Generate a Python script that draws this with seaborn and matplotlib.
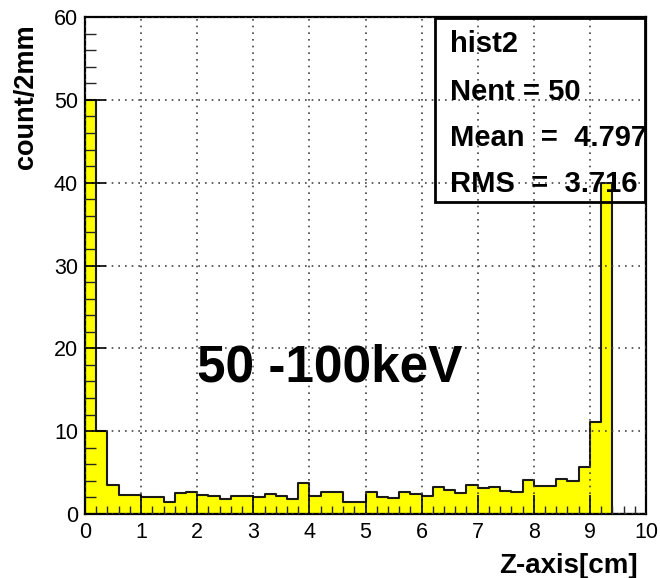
import numpy as np
import pandas as pd
import matplotlib
matplotlib.use("Agg")
import matplotlib.pyplot as plt
from matplotlib.patches import Rectangle
from matplotlib.ticker import MultipleLocator
import seaborn as sns

# Z position histogram, 2 mm bins from 0 to 10 cm
bin_width = 0.2
z_range = (0.0, 10.0)
counts = [
    50.0, 10.0, 3.5, 2.3, 2.3, 2.0, 2.0, 1.5, 2.5, 2.7,
    2.3, 2.2, 1.8, 2.2, 2.2, 2.1, 2.4, 2.2, 1.8, 3.8,
    2.2, 2.7, 2.7, 1.5, 1.4, 2.6, 2.1, 1.9, 2.6, 2.4,
    2.2, 3.2, 2.9, 2.5, 3.5, 3.1, 3.3, 2.8, 2.6, 4.1,
    3.4, 3.4, 4.2, 4.0, 5.7, 11.1, 40.0, 0.0, 0.0, 0.0,
]
bin_centers = [round(z_range[0] + bin_width * (i + 0.5), 2)
               for i in range(len(counts))]

x_ticks = list(range(0, 11))
y_ticks = list(range(0, 61, 10))

stats_lines = ["hist2", "Nent = 50", "Mean  =  4.797", "RMS  =  3.716"]
energy_label = "50 -100keV"
x_title = "Z-axis[cm]"
y_title = "count/2mm"

hist_df = pd.DataFrame({"z": bin_centers, "count": counts})

sns.set_style("ticks")
plt.rcParams["font.family"] = ["Liberation Sans", "DejaVu Sans"]

W, H = 660, 578
fig = plt.figure(figsize=(W / 100, H / 100), dpi=100)
ax = fig.add_axes([85 / W, 1 - 514 / H, (646 - 85) / W, (514 - 17) / H])

sns.histplot(
    data=hist_df, x="z", weights="count", binwidth=bin_width,
    binrange=z_range, element="step", fill=True, color="#ffff00",
    edgecolor="#1a1a1a", linewidth=1.5, alpha=1.0, ax=ax,
)

ax.set_xlim(0, 10)
ax.set_ylim(0, 60)
ax.set_xticks(x_ticks)
ax.set_yticks(y_ticks)
ax.set_xticklabels([str(t) for t in x_ticks], fontsize=15.5)
ax.set_yticklabels([str(t) for t in y_ticks], fontsize=15.5)
ax.xaxis.set_minor_locator(MultipleLocator(0.2))
ax.yaxis.set_minor_locator(MultipleLocator(2))
ax.tick_params(axis="x", which="major", direction="in", length=14, width=1.2,
               pad=6, top=False, colors="black")
ax.tick_params(axis="x", which="minor", direction="in", length=6, width=1.0,
               top=False)
ax.tick_params(axis="y", which="major", direction="in", length=15, width=1.2,
               pad=5, right=False, colors="black")
ax.tick_params(axis="y", which="minor", direction="in", length=8, width=1.0,
               right=False)
ax.set_xlabel("")
ax.set_ylabel("")
for side in ["left", "right", "top", "bottom"]:
    ax.spines[side].set_visible(True)
    ax.spines[side].set_color("black")
    ax.spines[side].set_linewidth(1.6)

ax.set_axisbelow(False)
ax.grid(True, which="major", linestyle=(0, (1, 3)), color="#444444",
        linewidth=1.2)

# Energy window label inside the plot
ax.text(2.0, 17.6, energy_label, fontsize=37, fontweight="bold",
        ha="left", va="center", color="black")

# Axis titles aligned to the axis ends
fig.text(638 / W, 1 - 566 / H, x_title, fontsize=20, fontweight="bold",
         ha="right", va="center", color="black")
fig.text(26 / W, 1 - 24 / H, y_title, fontsize=19.5, fontweight="bold",
         ha="center", va="top", rotation=90, color="black")

# Statistics box
fig.add_artist(Rectangle((435 / W, 1 - 202 / H), (645 - 435) / W,
                         (202 - 18) / H, transform=fig.transFigure,
                         fill=False, edgecolor="black", linewidth=2.0,
                         zorder=5))
for txt, yp in zip(stats_lines, [44, 92, 138, 184]):
    fig.text(450 / W, 1 - yp / H, txt, fontsize=21, fontweight="bold",
             ha="left", va="center", zorder=6, color="black")

fig.savefig("out.png", dpi=100)
